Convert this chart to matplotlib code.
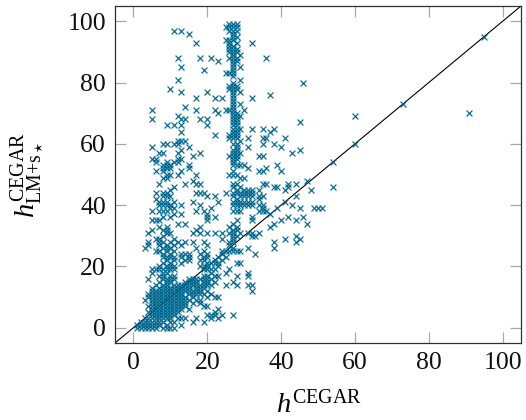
import matplotlib
matplotlib.use("Agg")
import matplotlib.pyplot as plt

# y values, one list per integer x value
y_x01 = [0, 1]
y_x02 = [0, 1, 2]
y_x03 = [0, 1, 2, 3, 9, 26]
y_x04 = [0, 1, 2, 3, 5, 7, 10, 11, 16, 27, 28, 31]
y_x05 = [0, 1, 2, 3, 4, 5, 6, 7, 8, 9, 10, 11, 12, 13, 18, 19, 32, 35, 38, 55, 59, 68, 71]
y_x06 = [0, 1, 2, 3, 4, 5, 6, 7, 8, 9, 10, 11, 12, 14, 19, 25, 29, 35, 42, 44, 51, 54, 55]
y_x07 = [1, 2, 3, 4, 5, 6, 7, 8, 9, 10, 11, 12, 13, 15, 17, 19, 20, 25, 27, 28, 29, 33, 35, 38, 40, 41, 47, 57]
y_x08 = [0, 2, 3, 4, 5, 6, 7, 8, 9, 10, 11, 12, 13, 14, 16, 17, 18, 19, 21, 23, 24, 26, 28, 30, 32, 36, 38, 40, 41, 43, 44, 49, 51, 52, 53, 57, 60]
y_x09 = [0, 1, 3, 4, 5, 6, 7, 8, 9, 10, 11, 12, 13, 14, 15, 16, 18, 19, 20, 22, 23, 25, 26, 27, 31, 32, 33, 38, 40, 41, 43, 44, 49, 50, 52, 53, 54, 60, 66]
y_x10 = [0, 2, 3, 4, 5, 6, 7, 8, 9, 10, 11, 12, 13, 15, 16, 17, 19, 20, 21, 23, 24, 26, 28, 31, 36, 39, 40, 43, 45, 50, 52, 53, 78]
y_x11 = [0, 2, 4, 5, 6, 7, 8, 9, 10, 11, 12, 13, 14, 16, 17, 19, 20, 22, 23, 25, 27, 29, 37, 39, 41, 46, 54, 60, 66, 97]
y_x12 = [3, 5, 6, 7, 8, 9, 10, 11, 12, 13, 14, 28, 34, 50, 54, 55, 57, 60, 61, 69, 81, 88]
y_x13 = [1, 3, 6, 7, 8, 9, 10, 11, 12, 13, 14, 21, 23, 24, 27, 37, 40, 51, 55, 58, 61, 64, 66, 68, 77, 85, 97]
y_x14 = [3, 7, 8, 9, 10, 12, 13, 14, 15, 22, 24, 28, 34, 47, 61, 68, 72]
y_x15 = [6, 9, 11, 12, 13, 14, 15, 16, 22, 23, 24, 52, 53, 59, 96]
y_x16 = [2, 8, 10, 11, 12, 14, 15, 16, 28, 31, 41, 48, 56]
y_x17 = [3, 9, 11, 12, 13, 14, 15, 16, 26, 32, 38, 44, 47, 50, 71, 75, 93]
y_x18 = [8, 9, 11, 12, 13, 14, 16, 20, 22, 24, 31, 33, 40, 44, 47, 57, 68, 88]
y_x19 = [2, 7, 11, 13, 14, 15, 16, 17, 19, 20, 22, 23, 25, 28, 38, 44, 84]
y_x20 = [4, 7, 10, 12, 14, 15, 16, 17, 19, 20, 21, 23, 24, 27, 31, 35, 36, 37, 43, 66, 68, 77]
y_x21 = [3, 4, 11, 14, 16, 18, 19, 21, 39, 88]
y_x22 = [4, 5, 10, 15, 17, 19, 21, 22, 31, 36, 43, 63, 71, 75]
y_x23 = [3, 6, 10, 17, 20, 21, 23, 41, 70, 87]
y_x24 = [4, 22, 24, 25, 29, 31, 75]
y_x25 = [14, 18, 23, 25, 44, 71, 83, 94, 98]
y_x26 = [19, 25, 27, 28, 31, 33, 50, 56, 62, 63, 71, 78, 79, 83, 88, 90, 91, 92, 93, 94, 97, 98, 99]
y_x27 = [4, 15, 25, 26, 28, 29, 30, 31, 32, 34, 38, 40, 41, 43, 44, 46, 47, 50, 51, 53, 54, 55, 56, 57, 58, 60, 62, 63, 64, 65, 66, 67, 68, 69, 70, 71, 72, 73, 74, 75, 76, 77, 78, 79, 80, 82, 83, 84, 85, 86, 87, 88, 89, 90, 91, 92, 94, 95, 96, 97, 98, 99]
y_x28 = [14, 17, 21, 25, 30, 32, 33, 35, 38, 40, 41, 42, 44, 45, 47, 50, 53, 55, 56, 57, 58, 59, 60, 62, 63, 64, 65, 66, 67, 68, 69, 70, 78, 79, 87, 88, 90, 91, 93, 95, 97, 98, 99]
y_x29 = [21, 25, 31, 38, 40, 41, 43, 44, 46, 49, 53, 57, 61, 65, 69, 73, 77, 81, 85, 89]
y_x30 = [40, 41, 43, 44, 45, 49, 53, 71]
y_x31 = [14, 17, 18, 26, 31, 40, 41, 43, 44, 45, 52, 59, 62]
y_x32 = [12, 14, 30, 31, 35, 36, 40, 41, 43, 44, 45, 65, 75, 93]
y_x33 = [24, 30]
y_x34 = [31, 38, 40, 42, 43, 45, 51, 56]
y_x35 = [38, 39, 40, 43, 47, 51, 56, 60, 62, 65]
y_x36 = [38, 47, 52, 62, 88]
y_x37 = [33, 37, 64, 76]
y_x38 = [26, 28, 34, 46, 60, 65]
y_x39 = [39, 46, 53]
y_x40 = [35, 51, 59]
y_x41 = [29, 41, 45, 62]
y_x42 = [36, 46, 47]
y_x43 = [40, 57]
y_x44 = [28, 30, 35, 43, 47]
y_x45 = [29, 39, 58, 67]
y_x46 = [36, 80]
y_x47 = [34, 48]
y_x48 = [45]
y_x49 = [39]
y_x50 = [39]
y_x51 = [39]
y_x54 = [46, 54]
y_x60 = [60, 69]
y_x73 = [73]
y_x91 = [70]
y_x95 = [95]

columns = [
    (1, y_x01), (2, y_x02), (3, y_x03), (4, y_x04), (5, y_x05), (6, y_x06),
    (7, y_x07), (8, y_x08), (9, y_x09), (10, y_x10), (11, y_x11), (12, y_x12),
    (13, y_x13), (14, y_x14), (15, y_x15), (16, y_x16), (17, y_x17), (18, y_x18),
    (19, y_x19), (20, y_x20), (21, y_x21), (22, y_x22), (23, y_x23), (24, y_x24),
    (25, y_x25), (26, y_x26), (27, y_x27), (28, y_x28), (29, y_x29), (30, y_x30),
    (31, y_x31), (32, y_x32), (33, y_x33), (34, y_x34), (35, y_x35), (36, y_x36),
    (37, y_x37), (38, y_x38), (39, y_x39), (40, y_x40), (41, y_x41), (42, y_x42),
    (43, y_x43), (44, y_x44), (45, y_x45), (46, y_x46), (47, y_x47), (48, y_x48),
    (49, y_x49), (50, y_x50), (51, y_x51), (54, y_x54), (60, y_x60), (73, y_x73),
    (91, y_x91), (95, y_x95),
]
tick_values = [0, 20, 40, 60, 80, 100]
axis_limits = [-5, 105]

plt.rcParams["font.family"] = ["Liberation Serif", "DejaVu Serif"]
plt.rcParams["mathtext.fontset"] = "custom"
plt.rcParams["mathtext.rm"] = "Liberation Serif"
plt.rcParams["mathtext.it"] = "Liberation Serif:italic"
plt.rcParams["mathtext.bf"] = "Liberation Serif:bold"

W, H = 526, 420
fig = plt.figure(figsize=(W / 100, H / 100), dpi=100)
left, right, top, bottom = 115, 521, 6, 343
ax = fig.add_axes([left / W, 1 - bottom / H, (right - left) / W, (bottom - top) / H])

xs = [x for x, col in columns for _ in col]
ys = [y for _, col in columns for y in col]
ax.plot(axis_limits, axis_limits, color="black", lw=0.8, zorder=2)
ax.scatter(xs, ys, marker="x", s=18, linewidths=0.85, color="#00688f", zorder=3)

ax.set_xlim(axis_limits)
ax.set_ylim(axis_limits)
ax.set_xticks(tick_values)
ax.set_yticks(tick_values)
ax.tick_params(axis="both", direction="in", length=7.8, width=0.9, color="#a8a8a8",
               top=True, right=True, labelsize=18.5, labelcolor="#111111", pad=6.5)
for s in ax.spines.values():
    s.set_linewidth(0.9)
    s.set_color("#303030")

fig.text(319 / W, 1 - 404 / H, r"$h^{\mathrm{CEGAR}}$", fontsize=20.5, ha="center", va="center")
fig.text(29 / W, 1 - 175 / H, r"$h^{\mathrm{CEGAR}}_{\mathrm{LM{+}s}_\star}$", fontsize=20.5,
         ha="center", va="center", rotation=90)

fig.savefig("out.png", dpi=100)
